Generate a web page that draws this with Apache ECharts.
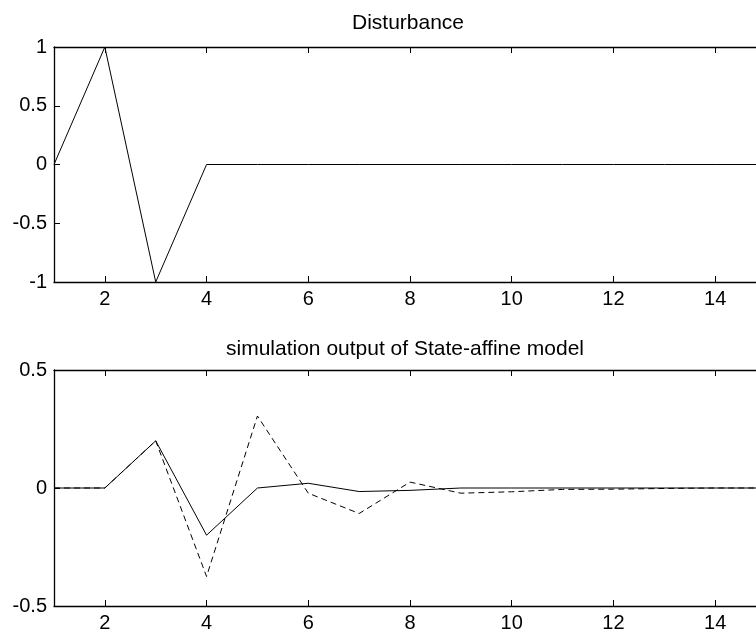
<!DOCTYPE html>
<html>
<head>
<meta charset="utf-8">
<script src="https://cdn.jsdelivr.net/npm/echarts@6/dist/echarts.min.js"></script>
<style>html,body{margin:0;padding:0;background:#fff}#c{width:756px;height:635px}</style>
</head>
<body>
<div id="c"></div>
<script>
const steps = [1,2,3,4,5,6,7,8,9,10,11,12,13,14,15];
const disturbance = [0,1,-1,0,0,0,0,0,0,0,0,0,0,0,0];
const outputSolid = [0,0,0.2,-0.2,0,0.02,-0.015,-0.01,0,0,0,0,0,0,0];
const outputDashed = [0,0,0.2,-0.375,0.305,-0.022,-0.108,0.025,-0.022,-0.016,-0.006,-0.005,-0.002,0,0];
const xTicks = [2,4,6,8,10,12,14];
const yTicksTop = [-1,-0.5,0,0.5,1];
const yTicksBottom = [-0.5,0,0.5];

const FONT = 'Liberation Sans, Arial, sans-serif';
const FS = 20;
function pairs(ys){ return steps.map((x,i)=>[x, ys[i]]); }

function xAx(gridIndex, pos, showLabel){
  return {
    type:'value', gridIndex, position:pos, min:1, max:15,
    axisLine:{show:true, onZero:false, lineStyle:{color:'#000', width:1.3}},
    axisTick:{show:true, inside:true, length:6, customValues:xTicks, lineStyle:{color:'#000', width:1}},
    axisLabel:{show:showLabel, customValues:xTicks, color:'#000', fontFamily:FONT, fontSize:FS, margin:7},
    splitLine:{show:false}
  };
}
function yAx(gridIndex, min, max, ticks){
  return {
    type:'value', gridIndex, min, max,
    axisLine:{show:true, onZero:false, lineStyle:{color:'#000', width:1.3}},
    axisTick:{show:true, inside:true, length:6, customValues:ticks, lineStyle:{color:'#000', width:1}},
    axisLabel:{show:true, customValues:ticks, color:'#000', fontFamily:FONT, fontSize:FS, margin:7,
      formatter: v => String(v)},
    splitLine:{show:false}
  };
}

const chart = echarts.init(document.getElementById('c'), null, {renderer:'canvas'});
chart.setOption({
  animation:false,
  backgroundColor:'#fff',
  title:[
    {text:'Disturbance', left:403, top:8, textAlign:'center',
     textStyle:{fontFamily:FONT, fontSize:FS + 1, fontWeight:'normal', color:'#000'}},
    {text:'simulation output of State-affine model', left:400, top:334, textAlign:'center',
     textStyle:{fontFamily:FONT, fontSize:FS + 1, fontWeight:'normal', color:'#000'}}
  ],
  grid:[
    {left:54, top:47, height:235, width:712, containLabel:false, outerBoundsMode:'none'},
    {left:54, top:370, height:236, width:712, containLabel:false, outerBoundsMode:'none'}
  ],
  xAxis:[xAx(0,'bottom',true), xAx(0,'top',false), xAx(1,'bottom',true), xAx(1,'top',false)],
  yAxis:[yAx(0,-1,1,yTicksTop), yAx(1,-0.5,0.5,yTicksBottom)],
  series:[
    {type:'line', xAxisIndex:0, yAxisIndex:0, data:pairs(disturbance), showSymbol:false,
     lineStyle:{color:'#000', width:1}},
    {type:'line', xAxisIndex:2, yAxisIndex:1, data:pairs(outputSolid), showSymbol:false,
     lineStyle:{color:'#000', width:1}},
    {type:'line', xAxisIndex:2, yAxisIndex:1, data:pairs(outputDashed), showSymbol:false,
     lineStyle:{color:'#000', width:1, type:[6,4]}}
  ]
});
</script>
</body>
</html>
